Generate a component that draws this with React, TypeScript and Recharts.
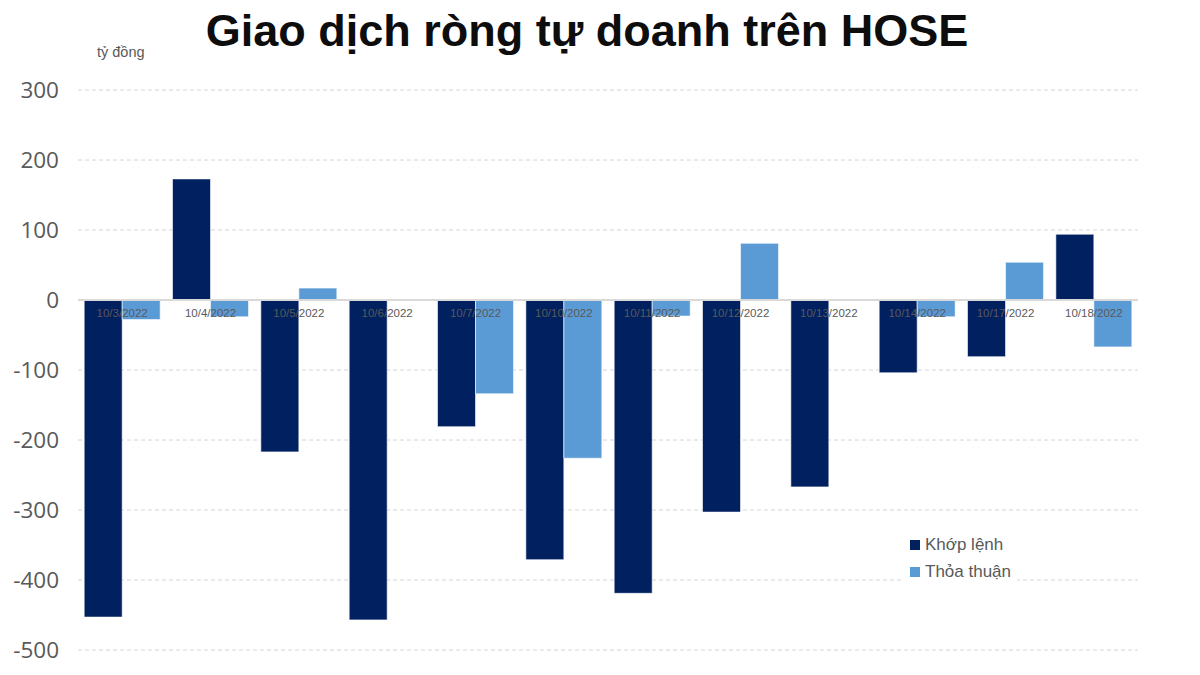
import { BarChart, Bar, XAxis, YAxis, CartesianGrid, ReferenceLine } from 'recharts';

const dates = [
  '10/3/2022', '10/4/2022', '10/5/2022', '10/6/2022', '10/7/2022', '10/10/2022',
  '10/11/2022', '10/12/2022', '10/13/2022', '10/14/2022', '10/17/2022', '10/18/2022',
];
const khopLenh = [-453, 173, -217, -457, -181, -371, -419, -303, -267, -104, -81, 94];
const thoaThuan = [-28, -24, 17, 0, -134, -226, -23, 81, 0, -24, 54, -67];
const yTicks = [-500, -400, -300, -200, -100, 0, 100, 200, 300];

const data = dates.map((date, i) => ({ date, khop: khopLenh[i], thoa: thoaThuan[i] }));

const W = 1200;
const H = 675;
const TOP = 90;
const BOTTOM = 25;
const Y_MIN = -500;
const Y_MAX = 300;
const PLOT_H = H - TOP - BOTTOM;
// distance from the bottom axis up to the zero line, so date labels sit on y = 0
const zeroLift = (0 - Y_MIN) / (Y_MAX - Y_MIN) * PLOT_H;

const grey = '#595959';
const sans = "'Liberation Sans', Arial, sans-serif";

function DateTick(props: any) {
  const { x, y, payload } = props;
  return (
    <text
      x={x}
      y={y - zeroLift}
      dy={9}
      textAnchor="middle"
      fontSize={11.5}
      fontFamily={sans}
      fill={grey}
    >
      {payload.value}
    </text>
  );
}

const legendItems = [
  { name: 'Khớp lệnh', color: '#002060' },
  { name: 'Thỏa thuận', color: '#5B9BD5' },
];

export default function App() {
  return (
    <div style={{ position: 'absolute', left: 0, top: 0, width: W, height: H, background: '#fff' }}>
      <div
        style={{
          position: 'absolute',
          left: 0,
          width: W,
          top: 5,
          textAlign: 'center',
          fontFamily: sans,
          fontWeight: 'bold',
          fontSize: 45,
          color: '#0d0d0d',
          paddingRight: 26,
          boxSizing: 'border-box',
        }}
      >
        Giao dịch ròng tự doanh trên HOSE
      </div>
      <div style={{ position: 'absolute', left: 97, top: 44, fontFamily: sans, fontSize: 14.5, color: grey }}>
        tỷ đồng
      </div>
      <BarChart
        width={W}
        height={H}
        data={data}
        margin={{ top: TOP, right: 62, bottom: 0, left: 0 }}
        barCategoryGap="7%"
        barGap={0}
      >
        <CartesianGrid vertical={false} stroke="#d4d4d4" strokeDasharray="4 3" />
        <YAxis
          domain={[Y_MIN, Y_MAX]}
          ticks={yTicks}
          width={78}
          axisLine={false}
          tickLine={false}
          tickMargin={13}
          tick={{ fontSize: 22.5, fill: grey, fontFamily: "'Open Sans', sans-serif" }}
          interval={0}
        />
        <ReferenceLine y={0} stroke="#d9d9d9" strokeWidth={2} />
        <Bar dataKey="khop" name="Khớp lệnh" fill="#002060" stroke="#ffffff" strokeWidth={0.6} isAnimationActive={false} />
        <Bar dataKey="thoa" name="Thỏa thuận" fill="#5B9BD5" stroke="#ffffff" strokeWidth={0.6} isAnimationActive={false} />
        <XAxis
          dataKey="date"
          height={BOTTOM}
          axisLine={false}
          tickLine={false}
          interval={0}
          tick={<DateTick />}
        />
      </BarChart>
      <div style={{ position: 'absolute', left: 904, top: 529, background: '#fff', padding: '2px 6px' }}>
        {legendItems.map((item) => (
          <div key={item.name} style={{ display: 'flex', alignItems: 'center', height: 27 }}>
            <span style={{ width: 10, height: 10, background: item.color, marginRight: 5, display: 'inline-block' }} />
            <span style={{ fontSize: 17, color: grey, fontFamily: sans }}>{item.name}</span>
          </div>
        ))}
      </div>
    </div>
  );
}
